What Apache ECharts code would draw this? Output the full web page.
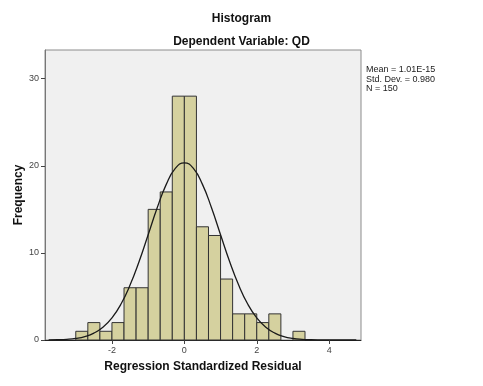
<!DOCTYPE html>
<html>
<head>
<meta charset="utf-8">
<script src="https://cdn.jsdelivr.net/npm/echarts@6/dist/echarts.min.js"></script>
<style>html,body{margin:0;padding:0;background:#fff;}#c{width:483px;height:386px;}</style>
</head>
<body>
<div id="c"></div>
<script>
// Histogram bins (width 1/3) and counts
var binStarts = [-3, -2.6667, -2.3333, -2, -1.6667, -1.3333, -1, -0.6667, -0.3333, 0, 0.3333, 0.6667, 1, 1.3333, 1.6667, 2, 2.3333, 2.6667, 3];
var binWidth = 1/3;
var counts = [1, 2, 1, 2, 6, 6, 15, 17, 28, 28, 13, 12, 7, 3, 3, 2, 3, 0, 1];
// Normal curve readings
var curveX = [-3.75,-3.5,-3.25,-3,-2.75,-2.5,-2.25,-2,-1.75,-1.5,-1.25,-1,-0.75,-0.5,-0.25,0,0.25,0.5,0.75,1,1.25,1.5,1.75,2,2.25,2.5,2.75,3,3.25,3.5,3.75,4,4.25,4.5,4.75];
var curveY = [0.013,0.035,0.083,0.19,0.40,0.79,1.46,2.54,4.13,6.31,9.02,12.09,15.18,17.87,19.70,20.35,19.70,17.87,15.18,12.09,9.02,6.31,4.13,2.54,1.46,0.79,0.40,0.19,0.083,0.035,0.013,0.005,0.002,0.001,0.0];
var xTicks = [-2, 0, 2, 4];
var yTicks = [0, 10, 20, 30];
var statsText = ['Mean = 1.01E-15', 'Std. Dev. = 0.980', 'N = 150'];

var barData = binStarts.map(function (s, i) { return [s, s + binWidth, counts[i]]; });
var lineData = curveX.map(function (x, i) { return [x, curveY[i]]; });

var chart = echarts.init(document.getElementById('c'));
chart.setOption({
  animation: false,
  backgroundColor: '#ffffff',
  title: [
    { text: 'Histogram', left: 'center', top: 8, textStyle: { fontFamily: 'Arial, Liberation Sans', fontSize: 12, fontWeight: 'bold', color: '#111' } },
    { text: 'Dependent Variable: QD', left: 'center', top: 31, textStyle: { fontFamily: 'Arial, Liberation Sans', fontSize: 12, fontWeight: 'bold', color: '#111' } }
  ],
  grid: { left: 45, top: 50, right: 122, bottom: 46, outerBoundsMode: 'none', containLabel: false, show: true, backgroundColor: '#f0f0f0', borderColor: '#8c8c8c', borderWidth: 1 },
  xAxis: {
    type: 'value', min: -3.85, max: 4.88,
    name: 'Regression Standardized Residual', nameLocation: 'middle', nameGap: 21, nameMoveOverlap: false,
    nameTextStyle: { fontFamily: 'Arial, Liberation Sans', fontSize: 12, fontWeight: 'bold', color: '#111' },
    splitLine: { show: false },
    axisLine: { show: true, onZero: false, lineStyle: { color: '#222', width: 1 } },
    axisTick: { show: true, length: 4, customValues: xTicks, lineStyle: { color: '#444' } },
    axisLabel: { customValues: xTicks, fontFamily: 'Arial, Liberation Sans', fontSize: 9, color: '#444', margin: 6 }
  },
  yAxis: {
    type: 'value', min: 0, max: 33.3,
    name: 'Frequency', nameLocation: 'middle', nameGap: 20, nameRotate: 90, nameMoveOverlap: false,
    nameTextStyle: { fontFamily: 'Arial, Liberation Sans', fontSize: 12, fontWeight: 'bold', color: '#111' },
    splitLine: { show: false },
    axisLine: { show: true, onZero: false, lineStyle: { color: '#777', width: 1 } },
    axisTick: { show: true, length: 4, customValues: yTicks, lineStyle: { color: '#444' } },
    axisLabel: { customValues: yTicks, fontFamily: 'Arial, Liberation Sans', fontSize: 9, color: '#444', margin: 6 }
  },
  series: [
    {
      type: 'custom',
      data: barData,
      encode: { x: [0, 1], y: 2 },
      renderItem: function (params, api) {
        var p0 = api.coord([api.value(0), api.value(2)]);
        var p1 = api.coord([api.value(1), 0]);
        if (api.value(2) <= 0) return null;
        return {
          type: 'rect',
          shape: { x: p0[0], y: p0[1], width: p1[0] - p0[0], height: p1[1] - p0[1] },
          style: { fill: '#d5d19f', stroke: '#333', lineWidth: 1 }
        };
      },
      z: 2
    },
    {
      type: 'line', data: lineData, smooth: true, symbol: 'none',
      lineStyle: { color: '#1a1a1a', width: 1.3 }, z: 3
    }
  ],
  graphic: [{
    type: 'text', left: 366, top: 65,
    style: { text: statsText.join('\n'), font: '9px Arial, Liberation Sans', fill: '#222', lineHeight: 9.5 }
  }]
});
</script>
</body>
</html>
